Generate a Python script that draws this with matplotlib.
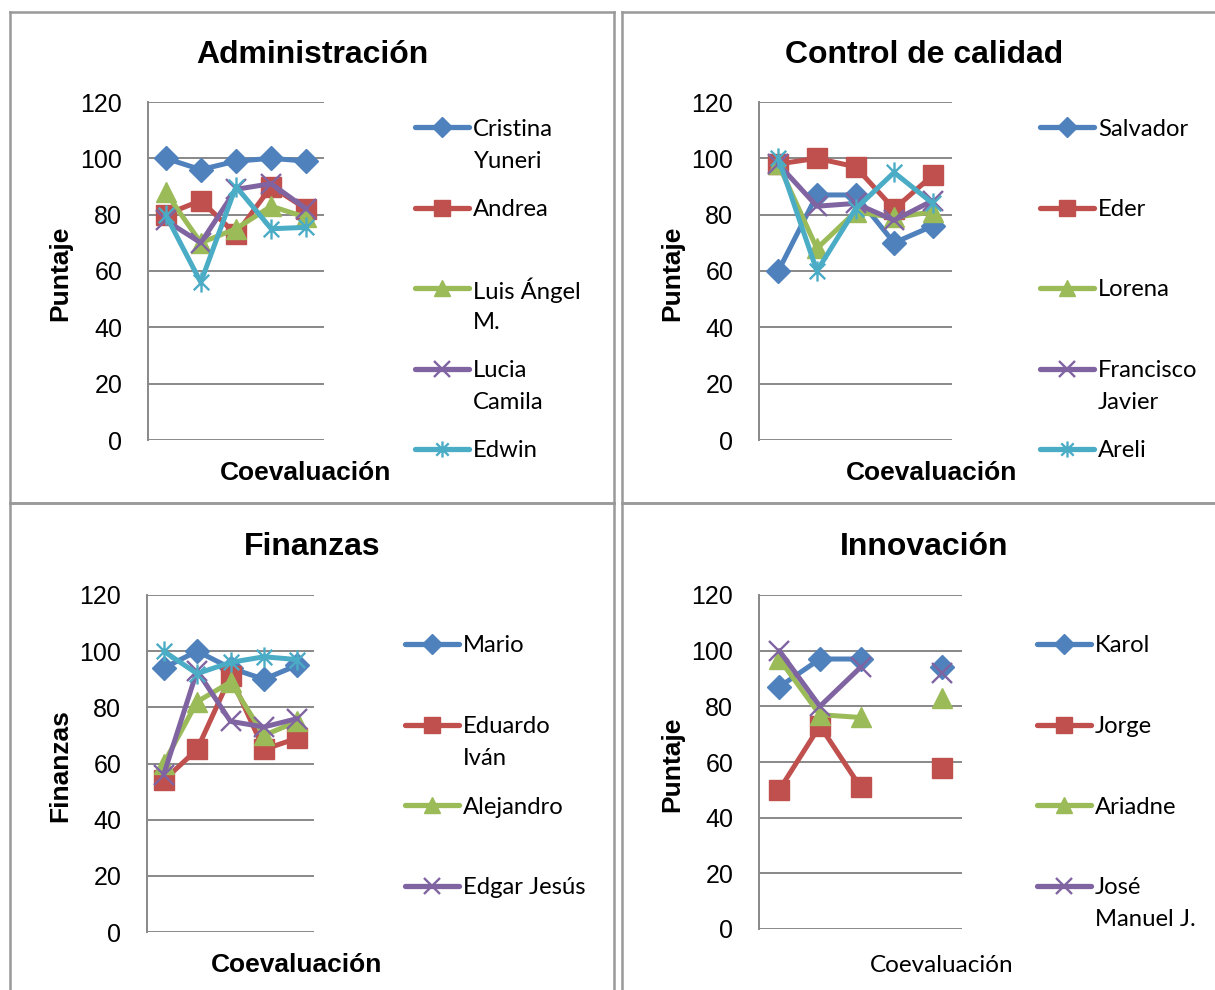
import numpy as np
import matplotlib
matplotlib.use("Agg")
import matplotlib.pyplot as plt
from matplotlib.path import Path
from matplotlib.lines import Line2D

W, H = 1215, 990

# Datos
evaluaciones = [1, 2, 3, 4, 5]
yticks = [0, 20, 40, 60, 80, 100, 120]

admin_nombres = ["Cristina\nYuneri", "Andrea", "Luis Ángel\nM.", "Lucia\nCamila", "Edwin"]
admin_cristina = [100, 96, 99, 100, 99]
admin_andrea = [80, 85, 73, 90, 82]
admin_luis = [88, 70, 75, 83, 79]
admin_lucia = [78, 70, 89, 91, 82]
admin_edwin = [80, 56, 90, 75, 75.5]

calidad_nombres = ["Salvador", "Eder", "Lorena", "Francisco\nJavier", "Areli"]
calidad_salvador = [60, 87, 87, 70, 76]
calidad_eder = [98, 100, 97, 82, 94]
calidad_lorena = [98, 68, 81, 79, 81]
calidad_francisco = [98, 83, 84, 78, 85]
calidad_areli = [100, 60, 82, 95, 84]

finanzas_nombres = ["Mario", "Eduardo\nIván", "Alejandro", "Edgar Jesús", None]
finanzas_mario = [94, 100, 94, 90, 95]
finanzas_eduardo = [54, 65, 91, 65, 69]
finanzas_alejandro = [60, 82, 89, 70, 75]
finanzas_edgar = [56, 93, 75, 73, 76]
finanzas_extra = [100, 92, 96, 98, 97]

innov_nombres = ["Karol", "Jorge", "Ariadne", "José\nManuel J."]
innov_karol = [87, 97, 97, np.nan, 94]
innov_jorge = [50, 73, 51, np.nan, 58]
innov_ariadne = [97, 77, 76, np.nan, 83]
innov_jose = [100, 80, 94, np.nan, 92]

colores = ["#4F81BD", "#C0504D", "#9BBB59", "#8064A2", "#4BACC6"]
GRIS = "#888888"

star = Path([(-1, -1), (1, 1), (-1, 1), (1, -1), (0, -1.3), (0, 1.3)],
            [Path.MOVETO, Path.LINETO, Path.MOVETO, Path.LINETO, Path.MOVETO, Path.LINETO])
estilos = [dict(marker="D", ms=12.5), dict(marker="s", ms=14), dict(marker="^", ms=15),
           dict(marker="x", ms=14.5, mew=1.7), dict(marker=star, ms=14.5, mew=1.7)]

fig = plt.figure(figsize=(W / 100, H / 100), dpi=100)


def fx(x):
    return x / W


def fy(y):
    return 1 - y / H


def panel_box(x0, y0, x1, y1):
    for xs, ys in [((x0, x1), (y0, y0)), ((x0, x0), (y0, y1)), ((x1, x1), (y0, y1)), ((x0, x1), (y1, y1))]:
        fig.add_artist(Line2D([fx(v) for v in xs], [fy(v) for v in ys], color="#999999", lw=1.8))


panel_box(10, 12, 614, 503)
panel_box(622, 12, 1225, 503)
panel_box(10, 503, 614, 1000)
panel_box(622, 503, 1225, 1000)


def panel(box, series, nombres, titulo, ylab, xlab, tcx, ty, ylx, xlx, xly, leg, xbold=True):
    x0, y0, x1, y1 = box
    ax = fig.add_axes([fx(x0), fy(y1), (x1 - x0) / W, (y1 - y0) / H])
    for i, vals in enumerate(series):
        st = dict(estilos[i])
        ax.plot(evaluaciones, vals, color=colores[i], lw=3.6, mec=colores[i], mfc=colores[i],
                solid_capstyle="round", clip_on=False, **st)
    ax.set_xlim(0.5, 5.5)
    ax.set_ylim(0, 120)
    ax.set_yticks(yticks)
    ax.set_xticks([])
    ax.grid(axis="y", color=GRIS, lw=1.4)
    ax.set_axisbelow(True)
    for s in ["top", "right", "bottom"]:
        ax.spines[s].set_visible(False)
    ax.spines["left"].set_color(GRIS)
    ax.spines["left"].set_linewidth(1.4)
    ax.tick_params(axis="y", length=0, pad=18.5, labelsize=18)
    for t in ax.get_yticklabels():
        t.set_fontfamily("Liberation Sans")

    fig.text(fx(tcx), fy(ty + 3), titulo, ha="center", va="center", fontsize=23,
             fontweight="bold", family="Liberation Sans")
    fig.text(fx(ylx), fy((y0 + y1) / 2 + 2), ylab, ha="center", va="center", rotation=90,
             fontsize=19, fontweight="bold", family="Liberation Sans")
    if xbold:
        fig.text(fx(xlx), fy(xly + 1), xlab, ha="center", va="center", fontsize=19,
                 fontweight="bold", family="Liberation Sans")
    else:
        fig.text(fx(xlx), fy(xly + 1), xlab, ha="center", va="center", fontsize=17.5,
                 family="Lato")

    lx0, ly0, step = leg
    for i, nombre in enumerate(nombres):
        if nombre is None:
            continue
        yy = ly0 + i * step
        st = dict(estilos[i])
        ms = st.pop("ms")
        fig.add_artist(Line2D([fx(lx0), fx(lx0 + 27), fx(lx0 + 54)], [fy(yy)] * 3,
                              color=colores[i], lw=3.8, solid_capstyle="round",
                              mec=colores[i], mfc=colores[i], ms=ms * 0.8, markevery=[1], **st))
        for k, linea in enumerate(nombre.split("\n")):
            fig.text(fx(lx0 + 58), fy(yy + k * 32), linea, ha="left", va="center_baseline",
                     fontsize=17.2, family="Lato")
    return ax


panel((148, 102, 324, 440),
      [admin_cristina, admin_andrea, admin_luis, admin_lucia, admin_edwin],
      admin_nombres, "Administración", "Puntaje", "Coevaluación",
      312, 52, 60, 306, 472, (415, 127, 80.5))

panel((759, 102, 952, 440),
      [calidad_salvador, calidad_eder, calidad_lorena, calidad_francisco, calidad_areli],
      calidad_nombres, "Control de calidad", "Puntaje", "Coevaluación",
      924, 52, 672, 932, 472, (1040, 127, 80.5))

panel((147, 595, 314, 932),
      [finanzas_mario, finanzas_eduardo, finanzas_alejandro, finanzas_edgar, finanzas_extra],
      finanzas_nombres, "Finanzas", "Finanzas", "Coevaluación",
      312, 544, 60, 297, 964, (405, 644, 80.5))

panel((759, 595, 962, 929),
      [innov_karol, innov_jorge, innov_ariadne, innov_jose],
      innov_nombres, "Innovación", "Puntaje", "Coevaluación",
      924, 544, 672, 942, 964, (1037, 644, 80.5), xbold=False)

fig.savefig("out.png", dpi=100)
